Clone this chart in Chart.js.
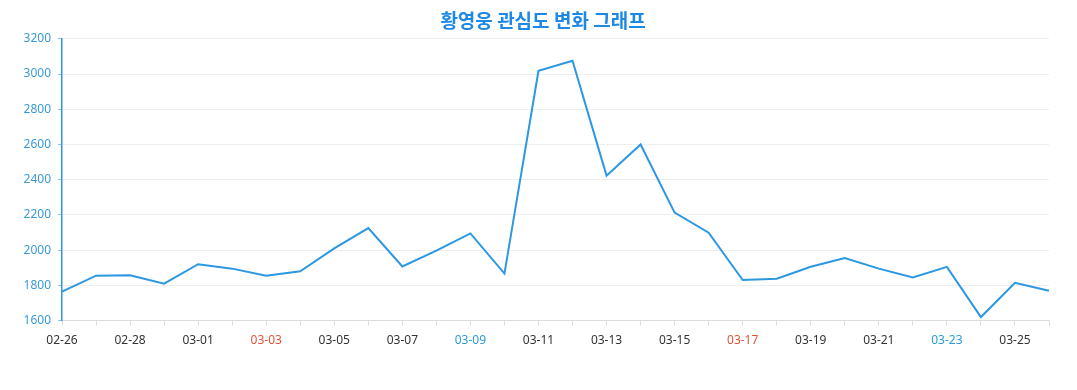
<!DOCTYPE html>
<html>
<head>
<meta charset="utf-8">
<script src="https://cdn.jsdelivr.net/npm/chart.js@4"></script>
<style>
  html, body { margin: 0; padding: 0; background: #fff; }
  #wrap { width: 1077px; height: 390px; }
</style>
</head>
<body>
<div id="wrap"><canvas id="interestChart"></canvas></div>
<script>
const dates = [
  "02-26", "02-27", "02-28", "02-29", "03-01", "03-02", "03-03", "03-04", "03-05", "03-06",
  "03-07", "03-08", "03-09", "03-10", "03-11", "03-12", "03-13", "03-14", "03-15", "03-16",
  "03-17", "03-18", "03-19", "03-20", "03-21", "03-22", "03-23", "03-24", "03-25", "03-26"
];
const interest = [
  1765, 1855, 1857, 1810, 1920, 1895, 1855, 1880, 2010, 2125,
  1907, 1997, 2095, 1867, 3018, 3075, 2423, 2600, 2213, 2099,
  1830, 1838, 1906, 1955, 1895, 1845, 1905, 1620, 1815, 1770
];
const yTicks = [1600, 1800, 2000, 2200, 2400, 2600, 2800, 3000, 3200];

// 2024: Saturdays blue, Sundays red
function labelColor(label) {
  const [m, d] = label.split("-").map(Number);
  const day = new Date(2024, m - 1, d).getDay();
  if (day === 6) return "#2a9bd8";
  if (day === 0) return "#e0533a";
  return "#333";
}

const ctx = document.getElementById("interestChart").getContext("2d");

new Chart(ctx, {
  type: "line",
  data: {
    labels: dates,
    datasets: [{
      label: "관심도",
      data: interest,
      borderColor: "#2c97e2",
      borderWidth: 2,
      pointRadius: 0,
      tension: 0,
      fill: false
    }]
  },
  options: {
    responsive: true,
    maintainAspectRatio: false,
    animation: false,
    layout: { padding: { left: 9, right: 0, top: 0, bottom: 34 } },
    plugins: {
      legend: { display: false },
      tooltip: { enabled: false },
      title: {
        display: true,
        text: "황영웅 관심도 변화 그래프",
        color: "#1e88e5",
        font: { family: "'Noto Sans CJK KR', 'Noto Sans'", size: 19, weight: "bold" },
        padding: { top: 9, bottom: 7 }
      }
    },
    scales: {
      x: {
        offset: false,
        border: { color: "#ddd", width: 1 },
        grid: { drawOnChartArea: false, drawTicks: true, tickLength: 5, color: "#ddd" },
        ticks: {
          autoSkip: false,
          maxRotation: 0,
          padding: 8,
          font: { family: "'Noto Sans'", size: 12 },
          color: ctx => labelColor(dates[ctx.index]),
          callback: (v, i) => (i % 2 === 0 && i < dates.length - 1) ? dates[i] : ""
        }
      },
      y: {
        min: yTicks[0],
        max: yTicks[yTicks.length - 1],
        afterBuildTicks: scale => { scale.ticks = yTicks.map(v => ({ value: v })); },
        afterFit: scale => { scale.width = 53; },
        border: { color: "#2c97e2", width: 1.5 },
        grid: { color: "#eeeeee", tickLength: 4, tickColor: "#8cc4ea" },
        ticks: {
          padding: 7,
          font: { family: "'Noto Sans'", size: 12 },
          color: "#3a9ad9",
          callback: v => String(v)
        }
      },
      // empty right-hand spacer so the title centres on the full width
      spacer: {
        position: "right",
        min: 0,
        max: 1,
        afterFit: scale => { scale.width = 28; },
        border: { display: false },
        grid: { display: false },
        ticks: { display: false }
      }
    }
  }
});
</script>
</body>
</html>
